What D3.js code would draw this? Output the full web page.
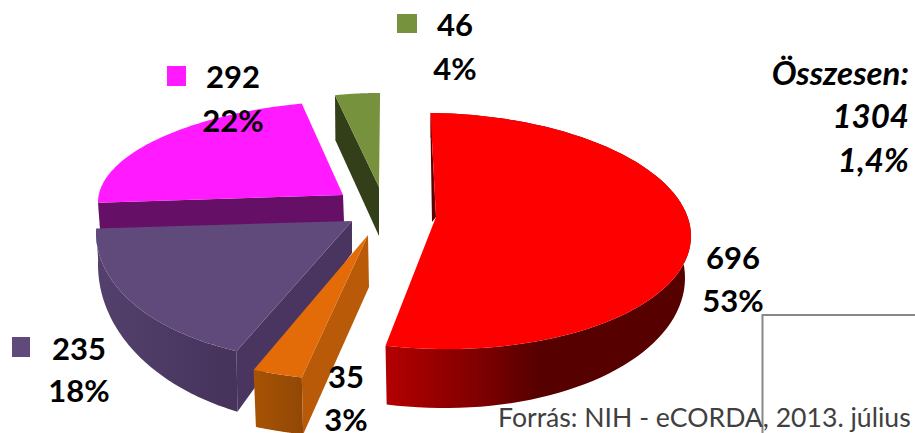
<!DOCTYPE html>
<html><head><meta charset="utf-8">
<script src="https://cdn.jsdelivr.net/npm/d3@7"></script>
<style>html,body{margin:0;background:#fff;overflow:hidden}svg{display:block}</style>
</head><body><div id="c"></div>
<script>
const categories = ["red","orange","purple","magenta","green"];
const values = [696,35,235,292,46];
const totalLabel = ["Összesen:","1304","1,4%"];
const sourceLabel = "Forrás: NIH - eCORDA, 2013. július";

const W=915,H=433;
const styles={
 red:{top:"#ff0000",cut:"#5e0000",wall:[[0,"#b40000"],[.3,"#800000"],[.5,"#560000"],[1,"#560000"]]},
 orange:{top:"#e36c09",cut:"#b85a08",wall:[[0,"#a85304"],[1,"#914805"]]},
 purple:{top:"#604a7b",cut:"#4a3560",wall:[[0,"#53406c"],[1,"#46335c"]]},
 magenta:{top:"#ff1aff",cut:"#660f66"},
 green:{top:"#76923c",cut:"#333f18"}
};
// 3D projection of every slice: apex, rim ellipse, and the lower rim
const geo={
 red:{ax:436,ay:217,cx:435,cy:231,rx:256,ry:118,rot:-1,shear:0.02,bax:432,bay:222,bcy:273,brx:250,bry:135,rim:true},
 orange:{ax:368,ay:235,cx:368,cy:235,rx:300,ry:146,rot:0.6,shear:0,bax:369,bay:287,bcy:292,brx:294,bry:146,rim:true},
 purple:{ax:352,ay:221,cx:352,cy:221,rx:256,ry:140,rot:5,shear:-0.045,bax:352,bay:253,bcy:253,brx:254,bry:172,rim:true},
 magenta:{ax:343,ay:195,cx:343,cy:195,rx:245,ry:94,rot:3,shear:-0.03,bax:344,bay:222,bcy:222,brx:243,bry:94,rim:false},
 green:{ax:379,ay:187,cx:379,cy:187,rx:205,ry:94,rot:0.3,shear:0,bax:379,bay:236,bcy:232,brx:203,bry:94,rim:false}
};
const labels={
 red:{x:733,y1:269,y2:312},
 orange:{x:346,y1:388,y2:431},
 purple:{x:79,y1:360,y2:402,sq:[12,337,18,20]},
 magenta:{x:233,y1:88,y2:132,sq:[167,66,19,20]},
 green:{x:455,y1:36,y2:80,sq:[397,14,20,19]}
};
const drawOrder=["green","magenta","purple","red","orange"];

const svg=d3.select("#c").append("svg").attr("width",W).attr("height",H);
const defs=svg.append("defs");
const arcs=d3.pie().sort(null).value(d=>d.value)(categories.map((c,i)=>({c,value:values[i]})));
const byCat=Object.fromEntries(arcs.map(a=>[a.data.c,a]));
const total=d3.sum(values), pct=d3.format(".0%");
const line=d3.line().x(d=>d[0]).y(d=>d[1]);

function rimPt(g,a,lower){
  const t=a+g.rot*Math.PI/180;
  const rx=lower?g.brx:g.rx, ry=lower?g.bry:g.ry, cy=lower?g.bcy:g.cy;
  const dx=rx*Math.sin(t);
  return [g.cx+dx, cy-ry*Math.cos(t)+g.shear*dx];
}
function rim(g,a0,a1,lower){
  const n=80, s=d3.scaleLinear().domain([0,n]).range([a0,a1]);
  return d3.range(n+1).map(i=>rimPt(g,s(i),lower));
}

drawOrder.forEach(c=>{
  const g=geo[c], st=styles[c], a=byCat[c];
  const layer=svg.append("g").attr("class","slice-"+c);
  if(g.rim){
    const id="wall-"+c;
    const lg=defs.append("linearGradient").attr("id",id);
    st.wall.forEach(s=>lg.append("stop").attr("offset",s[0]).attr("stop-color",s[1]));
    layer.append("path")
      .attr("d",line(rim(g,a.startAngle,a.endAngle,false).concat(rim(g,a.startAngle,a.endAngle,true).reverse()))+"Z")
      .attr("fill",`url(#${id})`);
  }
  // cut face at the slice's start angle
  layer.append("path")
    .attr("d",line([[g.ax,g.ay],rimPt(g,a.startAngle,false),rimPt(g,a.startAngle,true),[g.bax,g.bay]])+"Z")
    .attr("fill",st.cut);
  // top surface
  layer.append("path")
    .attr("d",line([[g.ax,g.ay]].concat(rim(g,a.startAngle,a.endAngle,false)))+"Z")
    .attr("fill",st.top);
});

// frame
svg.append("path").attr("d","M762.5,433V315H915").attr("fill","none").attr("stroke","#888").attr("stroke-width",2);

const font="Lato, sans-serif";
categories.forEach((c,i)=>{
  const l=labels[c];
  if(l.sq) svg.append("rect").attr("x",l.sq[0]).attr("y",l.sq[1]).attr("width",l.sq[2]).attr("height",l.sq[3]).attr("fill",styles[c].top);
  [[values[i],l.y1],[pct(values[i]/total),l.y2]].forEach(([t,y])=>{
    svg.append("text").attr("x",l.x).attr("y",y).attr("text-anchor","middle")
      .attr("font-family",font).attr("font-weight",700).attr("font-size",31).attr("fill","#000").text(t);
  });
});
const totalY=[85,128,172];
totalLabel.forEach((t,i)=>svg.append("text").attr("x",909).attr("y",totalY[i]).attr("text-anchor","end")
  .attr("font-family",font).attr("font-weight",700).attr("font-style","italic").attr("font-size",33).attr("fill","#000").text(t));
svg.append("text").attr("x",498).attr("y",427).attr("font-family",font).attr("font-size",26.6).attr("fill","#404040").text(sourceLabel);
</script></body></html>
